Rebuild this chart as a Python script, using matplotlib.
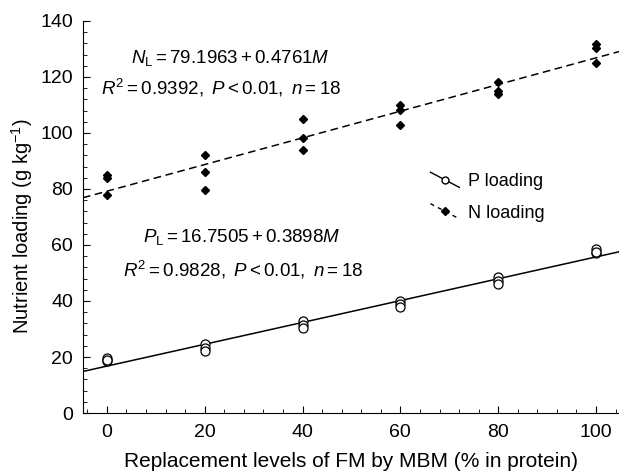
import matplotlib
matplotlib.use("Agg")
import matplotlib.pyplot as plt
import numpy as np
from matplotlib.ticker import MultipleLocator
from matplotlib.legend_handler import HandlerLine2D

plt.rcParams['font.family'] = ['Liberation Sans', 'DejaVu Sans']
plt.rcParams['mathtext.fontset'] = 'custom'
plt.rcParams['mathtext.rm'] = 'Liberation Sans'
plt.rcParams['mathtext.it'] = 'Liberation Sans:italic'

# replacement levels (% in protein), three replicates each
levels = [0, 20, 40, 60, 80, 100]
p_loading = [[19.5, 18.5, 18.8],
             [24.8, 23.3, 22.0],
             [33.0, 31.5, 30.5],
             [40.0, 39.0, 38.0],
             [48.5, 47.0, 46.0],
             [58.5, 57.0, 57.5]]
n_loading = [[85.0, 83.8, 78.0],
             [92.2, 86.0, 79.6],
             [105.0, 98.2, 94.0],
             [109.8, 108.3, 103.0],
             [118.3, 114.8, 114.0],
             [131.8, 130.5, 125.0]]

# regression coefficients (intercept, slope)
p_fit = (16.7505, 0.3898)
n_fit = (79.1963, 0.4761)


class SlantHandler(HandlerLine2D):
    """legend line drawn slanting down to the right, like the original"""
    def create_artists(self, legend, orig_handle, xdescent, ydescent,
                       width, height, fontsize, trans):
        arts = super().create_artists(legend, orig_handle, xdescent, ydescent,
                                      width, height, fontsize, trans)
        line = arts[0]
        xd = np.asarray(line.get_xdata())
        yc = (height - ydescent) / 2
        line.set_ydata(np.linspace(yc + 0.6 * height, yc - 0.6 * height, len(xd)))
        return arts


fig = plt.figure(figsize=(6.19, 4.73), dpi=100)
ax = fig.add_axes([0.134, 0.1268, 0.866, 0.829])

xmin, xmax = -4.9, 104.7
xs = np.repeat(levels, 3)
ax.plot(xs, np.ravel(p_loading), 'o', mfc='white', mec='black', ms=6.5, mew=0.9, zorder=3)
ax.plot(xs, np.ravel(n_loading), 'D', color='black', ms=4.5, zorder=3)

xl = np.array([xmin, xmax])
ax.plot(xl, p_fit[0] + p_fit[1] * xl, '-', color='black', lw=1.1)
ax.plot(xl, n_fit[0] + n_fit[1] * xl, '--', color='black', lw=1.1, dashes=(5, 3))

# legend handles
hp, = ax.plot([], [], '-o', color='black', mfc='white', ms=5, lw=1, label='P loading')
hn, = ax.plot([], [], '--D', color='black', ms=4, lw=1, dashes=(3, 3), label='N loading')
ax.legend(handles=[hp, hn], loc='center left', bbox_to_anchor=(0.618, 0.55), frameon=False,
          fontsize=13, handlelength=1.6, handletextpad=0.5, labelspacing=0.8,
          handler_map={hp: SlantHandler(), hn: SlantHandler()})

ax.text(4.9, 126.8, r'$N_{\rm L}=79.1963+0.4761M$', fontsize=13.5, ha='left', va='center')
ax.text(-1.2, 116.1, r'$R^2=0.9392,\ P<0.01,\ n=18$', fontsize=13.5, ha='left', va='center')
ax.text(7.4, 62.9, r'$P_{\rm L}=16.7505+0.3898M$', fontsize=13.5, ha='left', va='center')
ax.text(3.3, 51.1, r'$R^2=0.9828,\ P<0.01,\ n=18$', fontsize=13.5, ha='left', va='center')

ax.set_xlim(xmin, xmax)
ax.set_ylim(0, 140)
ax.set_xticks(levels)
ax.set_yticks(range(0, 141, 20))
ax.xaxis.set_minor_locator(MultipleLocator(4))
ax.yaxis.set_minor_locator(MultipleLocator(4))
ax.tick_params(which='both', direction='in', labelsize=14)
ax.tick_params(which='major', length=5)
ax.tick_params(which='minor', length=3)
ax.tick_params(axis='x', pad=8)
ax.tick_params(axis='y', pad=7)
ax.spines['top'].set_visible(False)
ax.spines['right'].set_visible(False)

ax.set_xlabel('Replacement levels of FM by MBM (% in protein)', fontsize=15, labelpad=8)
ax.set_ylabel(r'Nutrient loading (g kg$^{-1}$)', fontsize=14.5)
ax.yaxis.set_label_coords(-0.0896, 0.477)

fig.savefig('out.png', dpi=100)
